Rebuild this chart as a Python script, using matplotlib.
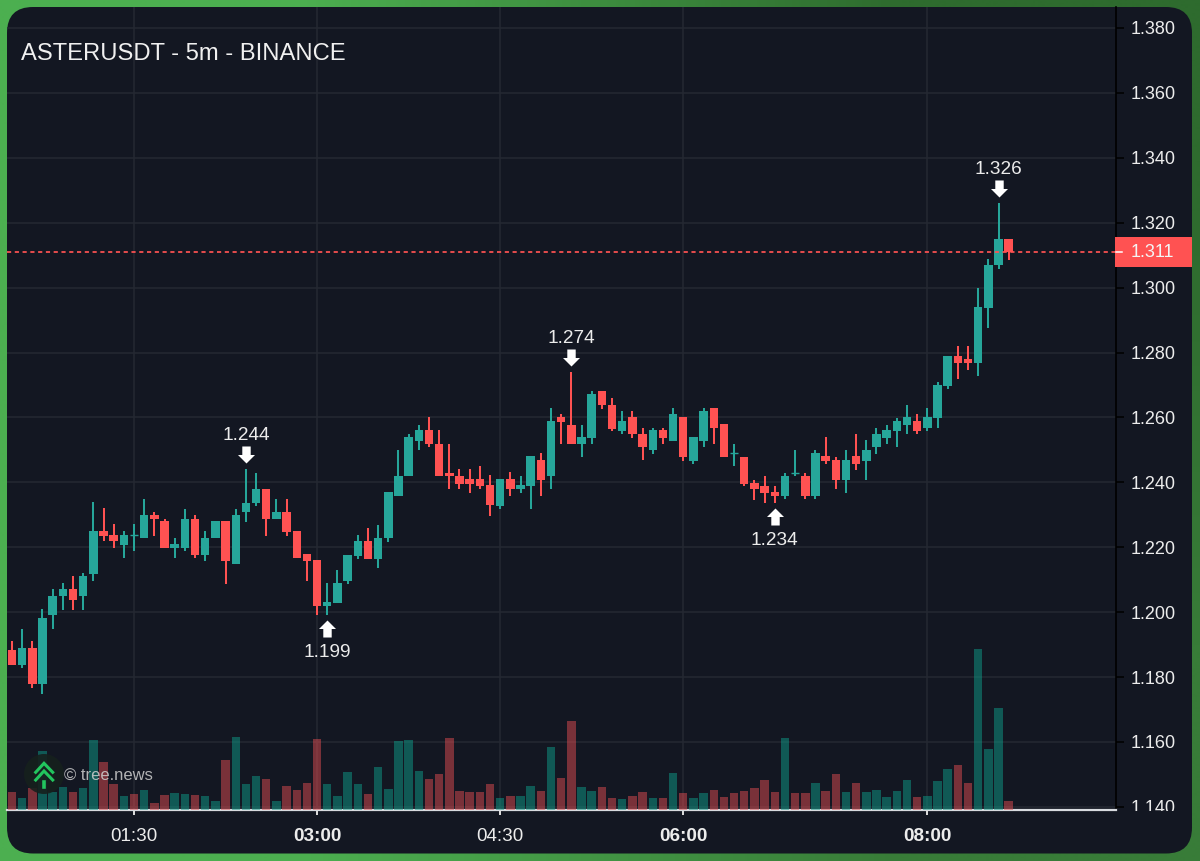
import numpy as np
import matplotlib
matplotlib.use("Agg")
import matplotlib.pyplot as plt
from matplotlib.patches import FancyBboxPatch, Rectangle, Circle
from matplotlib.path import Path
from matplotlib.transforms import offset_copy, Bbox

plt.rcParams['font.family'] = ['Liberation Sans', 'DejaVu Sans']
plt.rcParams['lines.scale_dashes'] = False

title = "ASTERUSDT - 5m - BINANCE"
watermark = "\u00a9 tree.news"

opens = [1.1882,1.1838,1.1889,1.1777,1.1990,1.2049,1.2070,1.2049,1.2117,1.2249,
         1.2239,1.2208,1.2238,1.2227,1.2299,1.2281,1.2198,1.2198,1.2288,1.2176,
         1.2227,1.2281,1.2148,1.2307,1.2335,1.2379,1.2286,1.2310,1.2249,1.2179,
         1.2161,1.2018,1.2029,1.2097,1.2174,1.2218,1.2164,1.2227,1.2358,1.2418,
         1.2527,1.2560,1.2519,1.2430,1.2419,1.2409,1.2409,1.2391,1.2328,1.2409,
         1.2378,1.2389,1.2470,1.2418,1.2600,1.2578,1.2517,1.2538,1.2681,1.2639,
         1.2558,1.2600,1.2550,1.2498,1.2560,1.2527,1.2600,1.2467,1.2527,1.2628,
         1.2579,1.2489,1.2479,1.2399,1.2390,1.2370,1.2357,1.2428,1.2419,1.2357,
         1.2480,1.2469,1.2407,1.2480,1.2467,1.2509,1.2538,1.2559,1.2576,1.2590,
         1.2566,1.2598,1.2698,1.2790,1.2780,1.2768,1.2938,1.3069,1.3149]
highs = [1.1911,1.1949,1.1911,1.2009,1.2070,1.2090,1.2112,1.2119,1.2338,1.2321,
         1.2270,1.2249,1.2270,1.2349,1.2309,1.2288,1.2229,1.2319,1.2298,1.2249,
         1.2281,1.2281,1.2319,1.2440,1.2430,1.2379,1.2349,1.2349,1.2249,1.2179,
         1.2161,1.2090,1.2130,1.2176,1.2237,1.2258,1.2269,1.2371,1.2501,1.2550,
         1.2578,1.2600,1.2560,1.2519,1.2440,1.2441,1.2451,1.2421,1.2409,1.2431,
         1.2419,1.2480,1.2490,1.2629,1.2610,1.2740,1.2578,1.2681,1.2681,1.2659,
         1.2621,1.2621,1.2568,1.2568,1.2568,1.2628,1.2600,1.2539,1.2628,1.2628,
         1.2579,1.2519,1.2479,1.2408,1.2420,1.2390,1.2429,1.2500,1.2429,1.2500,
         1.2539,1.2478,1.2500,1.2550,1.2529,1.2568,1.2578,1.2599,1.2639,1.2609,
         1.2628,1.2709,1.2790,1.2820,1.2820,1.3000,1.3088,1.3260,1.3149]
lows = [1.1836,1.1828,1.1767,1.1749,1.1947,1.2007,1.2007,1.2007,1.2097,1.2218,
        1.2198,1.2166,1.2188,1.2227,1.2236,1.2197,1.2166,1.2188,1.2166,1.2159,
        1.2227,1.2087,1.2148,1.2278,1.2328,1.2236,1.2286,1.2236,1.2166,1.2097,
        1.1990,1.1990,1.2029,1.2087,1.2164,1.2164,1.2136,1.2216,1.2358,1.2418,
        1.2498,1.2509,1.2418,1.2378,1.2378,1.2368,1.2378,1.2297,1.2318,1.2357,
        1.2367,1.2318,1.2357,1.2378,1.2517,1.2517,1.2477,1.2517,1.2626,1.2558,
        1.2548,1.2537,1.2468,1.2488,1.2517,1.2527,1.2467,1.2457,1.2509,1.2517,
        1.2478,1.2449,1.2388,1.2346,1.2336,1.2336,1.2347,1.2418,1.2347,1.2347,
        1.2456,1.2378,1.2368,1.2439,1.2407,1.2488,1.2517,1.2509,1.2548,1.2548,
        1.2558,1.2566,1.2686,1.2718,1.2747,1.2727,1.2877,1.3057,1.3086]
closes = [1.1838,1.1889,1.1777,1.1981,1.2051,1.2070,1.2038,1.2112,1.2249,1.2236,
          1.2218,1.2238,1.2238,1.2298,1.2286,1.2198,1.2210,1.2288,1.2176,1.2229,
          1.2281,1.2158,1.2298,1.2337,1.2379,1.2286,1.2310,1.2247,1.2166,1.2159,
          1.2018,1.2030,1.2090,1.2176,1.2218,1.2164,1.2227,1.2371,1.2419,1.2539,
          1.2560,1.2517,1.2418,1.2418,1.2396,1.2396,1.2390,1.2329,1.2409,1.2378,
          1.2391,1.2480,1.2407,1.2590,1.2587,1.2517,1.2539,1.2671,1.2637,1.2565,
          1.2590,1.2548,1.2509,1.2560,1.2537,1.2610,1.2477,1.2539,1.2621,1.2566,
          1.2478,1.2489,1.2395,1.2378,1.2368,1.2357,1.2419,1.2428,1.2357,1.2490,
          1.2466,1.2406,1.2469,1.2456,1.2500,1.2550,1.2560,1.2590,1.2600,1.2559,
          1.2600,1.2699,1.2790,1.2768,1.2768,1.2939,1.3070,1.3149,1.3109]
volumes = [55,35,65,177,55,68,54,65,209,143,
           77,41,47,59,21,44,52,49,44,41,
           26,149,219,79,102,92,26,72,59,82,
           212,79,41,113,79,49,128,62,207,209,
           118,92,107,215,57,54,54,79,37,41,
           42,73,58,190,96,267,70,58,68,35,
           33,43,55,37,35,111,50,37,50,60,
           38,50,58,65,91,53,215,50,50,80,
           58,108,55,80,53,60,40,58,89,38,
           43,88,122,134,80,483,183,305,26]

price_ticks = [1.14,1.16,1.18,1.20,1.22,1.24,1.26,1.28,1.30,1.32,1.34,1.36,1.38]
time_idx = [12,30,48,66,90]
time_labels = ['01:30','03:00','04:30','06:00','08:00']
time_bold = [False,True,False,True,True]
swing_high_idx = [23,55,97]
swing_low_idx = [31,75]

BG = '#131722'
GRID = '#242832'
UP = '#26a69a'
DOWN = '#ff5252'
TXT = '#ececec'

fig = plt.figure(figsize=(12,8.61), dpi=100)
W,H = 1200,861

# frame
bg = fig.add_axes([0,0,1,1], zorder=0)
bg.set_xlim(0,W); bg.set_ylim(H,0); bg.axis('off')
grad = np.array([[[0x4c,0xaf,0x50],[0x2e,0x6b,0x2e]],[[0x4c,0xaf,0x50],[0x38,0x7c,0x38]]],dtype=float)/255
bg.imshow(grad, extent=(0,W,H,0), interpolation='bilinear', aspect='auto', zorder=0)
bg.add_patch(FancyBboxPatch((7+26,7+26),1185-52,846.5-52,boxstyle="round,pad=26,rounding_size=26",
                            fc=BG, ec='none', zorder=1))

# main axes
rect = [7/W,(H-810)/H,(1116-7)/W,(810-7)/H]
XL = (-0.49,108.55)
YL = (1.38-(810-28)/3245,1.38+21/3245)
ax = fig.add_axes(rect, zorder=2)
ax.patch.set_visible(False)
ax.set_xlim(XL)
ax.set_ylim(YL)
n = len(opens)
x = np.arange(n)
o,h,l,c = map(np.array,(opens,highs,lows,closes))

ax.set_yticks(price_ticks)
ax.set_yticklabels([f"{p:.3f}" for p in price_ticks])
ax.yaxis.tick_right()
ax.set_xticks(time_idx)
ax.set_xticklabels(time_labels)
for lab,b in zip(ax.get_xticklabels(),time_bold):
    lab.set_fontweight('bold' if b else 'normal')
ax.tick_params(axis='y',length=5.8,width=1.1,color='black',labelcolor=TXT,labelsize=13.0,pad=5)
ax.tick_params(axis='x',length=3.6,width=1.4,color='#e0e0e0',labelcolor=TXT,labelsize=13.6,pad=9.2)
ax.grid(True,color=GRID,lw=1.1,zorder=0)
ax.set_axisbelow(True)
for s in ('top','left'):
    ax.spines[s].set_visible(False)
ax.spines['right'].set_color('black'); ax.spines['right'].set_linewidth(1.2)
ax.spines['bottom'].set_color('#d8dbe0'); ax.spines['bottom'].set_linewidth(1.6)
ax.get_yticklabels()[0].set_clip_on(True)
ax.get_yticklabels()[0].set_clip_box(Bbox([[0,H-811],[W,H]]))

# volume
vax = fig.add_axes(rect, zorder=3)
vax.set_xlim(XL)
vax.set_ylim(0,803*3)
vax.axis('off')
vol_up = c>o
vax.bar(x,volumes,width=0.83,color=np.where(vol_up,'#0e9c88','#e04c50'),alpha=0.5,lw=0)

# candles on their own copy of the price scale
cax = fig.add_axes(rect, zorder=4)
cax.set_xlim(XL)
cax.set_ylim(YL)
cax.axis('off')
up = c>=o
cols = np.where(up,UP,DOWN)
cax.vlines(x,l,h,colors=cols,lw=1.45,zorder=2)
tops = np.maximum(o,c); bots = np.minimum(o,c)
cax.bar(x,tops-bots,bottom=bots,width=0.83,color=cols,lw=0,zorder=3)
for i in x[o==c]:
    cax.hlines(o[i],i-0.415,i+0.415,colors=UP,lw=1.0,zorder=3)
last = closes[-1]
cax.plot(XL,[last,last],color=DOWN,lw=1.25,linestyle=(0,(3.0,2.6)),zorder=4)

# swing markers
arrow_down = Path([(0,0),(-8.5,8.5),(-4.2,8.5),(-4.2,17),(4.2,17),(4.2,8.5),(8.5,8.5),(0,0)])
arrow_up = Path(arrow_down.vertices*[1,-1])
tr_hi = offset_copy(cax.transData,fig=fig,x=0,y=6*0.72,units='points')
tr_lo = offset_copy(cax.transData,fig=fig,x=0,y=-5*0.72,units='points')
cax.plot(x[swing_high_idx],h[swing_high_idx],ls='none',marker=arrow_down,ms=24.5,mfc='white',mec='none',
         transform=tr_hi,zorder=5,clip_on=False)
cax.plot(x[swing_low_idx],l[swing_low_idx],ls='none',marker=arrow_up,ms=24.5,mfc='white',mec='none',
         transform=tr_lo,zorder=5,clip_on=False)
for i in swing_high_idx:
    cax.annotate(f"{highs[i]:.3f}",(i,highs[i]),xytext=(0,33.5*0.72),textcoords='offset points',
                 ha='center',va='center',color=TXT,fontsize=13.7,zorder=5)
for i in swing_low_idx:
    cax.annotate(f"{lows[i]:.3f}",(i,lows[i]),xytext=(0,-37.5*0.72),textcoords='offset points',
                 ha='center',va='center',color=TXT,fontsize=13.7,zorder=5)

# overlay in pixel space
ov = fig.add_axes([0,0,1,1],zorder=10)
ov.set_xlim(0,W); ov.set_ylim(H,0); ov.axis('off')
ov.patch.set_visible(False)
ov.text(21,53.5,title,color='#f0f0f0',fontsize=17.1,ha='left',va='center')
ly = H-cax.transData.transform((0,last))[1]
ov.add_patch(Rectangle((1115,ly-15.5),77,30.5,fc=DOWN,ec='none'))
ov.plot([1116,1122],[ly,ly],color='white',lw=1.1)
ov.text(1131,ly,f"{last:.3f}",color='#f4f4f4',fontsize=13.0,ha='left',va='center')
ov.add_patch(Circle((44,774),20,fc='#16201d',ec='none',alpha=0.9))
G = '#22c55e'
ov.plot([35.7,44,52.7],[772.3,763.3,772.3],color=G,lw=2.2,solid_joinstyle='miter')
ov.plot([35.7,44,52.7],[780,771,780],color=G,lw=2.2,solid_joinstyle='miter')
ov.plot([44,44],[782.3,786.7],color=G,lw=2.6)
ov.text(64,776,watermark,color='#cfcfcf',alpha=0.85,fontsize=12.0,ha='left',va='center')

fig.savefig('out.png',dpi=100)
